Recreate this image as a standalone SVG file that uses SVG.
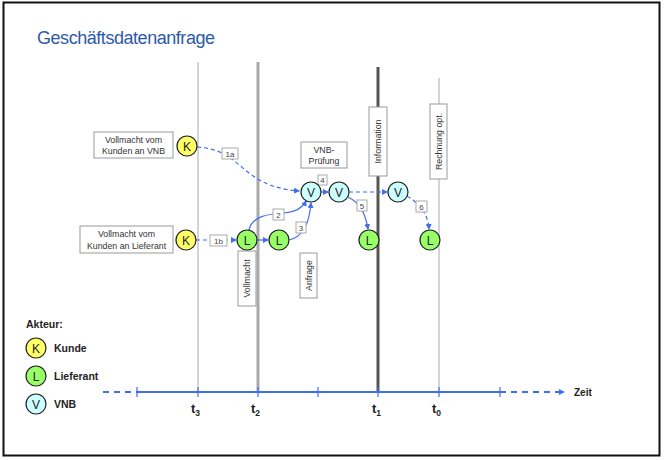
<svg xmlns="http://www.w3.org/2000/svg" width="664" height="460" viewBox="0 0 664 460">
<defs>
<marker id="ah" markerWidth="6" markerHeight="6" refX="5" refY="3" orient="auto" markerUnits="userSpaceOnUse"><path d="M0,0 L6,3 L0,6 z" fill="#3f6ef0"/></marker>
<style>
text{font-family:"Liberation Sans",Arial,sans-serif;fill:#222}
.n circle{stroke:#222;stroke-width:1.2}
.k{fill:#ffff66}.l{fill:#99ff66}.v{fill:#ccffff}
.nt{font-size:12px;text-anchor:middle}
.box{fill:#fff;stroke:#999;stroke-width:1}
.bt{font-size:8.8px;text-anchor:middle;fill:#333}
.lb{fill:#fff;stroke:#aaa;stroke-width:1}
.lt{font-size:8px;text-anchor:middle;fill:#444}
.c{fill:none;stroke:#3f6ef0;stroke-width:1.2}
.d{stroke-dasharray:4,3}
.leg{font-size:10.5px;font-weight:bold}
</style>
</defs>
<rect x="3.5" y="2.5" width="656" height="453" fill="#fff" stroke="#111" stroke-width="2"/>
<text x="37" y="44" font-size="18" fill="#2e5aa8" style="fill:#2e5aa8" textLength="178">Geschäftsdatenanfrage</text>

<g id="timelines">
<line x1="198" y1="62" x2="198" y2="392" stroke="#aaa" stroke-width="1"/>
<line x1="258" y1="62" x2="258" y2="392" stroke="#aaa" stroke-width="3"/>
<line x1="378" y1="67" x2="378" y2="392" stroke="#555" stroke-width="3"/>
<line x1="439" y1="78" x2="439" y2="392" stroke="#aaa" stroke-width="1"/>
</g>

<g id="axis">
<line x1="137" y1="392" x2="500" y2="392" stroke="#3f6ef0" stroke-width="2"/>
<line x1="103" y1="392" x2="137" y2="392" stroke="#3f6ef0" stroke-width="2" stroke-dasharray="6,5"/>
<line x1="500" y1="392" x2="564" y2="392" stroke="#3f6ef0" stroke-width="2" stroke-dasharray="6,5" marker-end="url(#ah)"/>
<g stroke="#3f6ef0" stroke-width="1.2">
<line x1="137" y1="387" x2="137" y2="397"/><line x1="198" y1="387" x2="198" y2="397"/><line x1="258" y1="387" x2="258" y2="397"/><line x1="318" y1="387" x2="318" y2="397"/><line x1="378" y1="387" x2="378" y2="397"/><line x1="439" y1="387" x2="439" y2="397"/><line x1="500" y1="387" x2="500" y2="397"/>
</g>
<text x="574" y="396" font-size="10" font-weight="bold">Zeit</text>
<text x="191" y="413" font-size="13" font-weight="bold">t<tspan font-size="8.5" dy="3">3</tspan></text>
<text x="251" y="413" font-size="13" font-weight="bold">t<tspan font-size="8.5" dy="3">2</tspan></text>
<text x="372" y="413" font-size="13" font-weight="bold">t<tspan font-size="8.5" dy="3">1</tspan></text>
<text x="432" y="413" font-size="13" font-weight="bold">t<tspan font-size="8.5" dy="3">0</tspan></text>
</g>

<g id="labels">
<g id="box-vnb"><rect class="box" x="94" y="132" width="79" height="26"/><text class="bt" x="133.5" y="143">Vollmacht vom</text><text class="bt" x="133.5" y="154">Kunden an VNB</text></g>
<g id="box-lief"><rect class="box" x="80" y="226" width="93" height="27"/><text class="bt" x="126.5" y="237">Vollmacht vom</text><text class="bt" x="126.5" y="248.5">Kunden an Lieferant</text></g>
<g id="box-pruef"><rect class="box" x="301" y="142" width="46" height="26"/><text class="bt" x="324" y="153">VNB-</text><text class="bt" x="324" y="164">Prüfung</text></g>
<g id="box-info"><rect class="box" x="369" y="107" width="18" height="69"/><text class="bt" transform="translate(381,141.5) rotate(-90)">Information</text></g>
<g id="box-rech"><rect class="box" x="430" y="104" width="17" height="75"/><text class="bt" transform="translate(441.5,141.5) rotate(-90)">Rechnung opt.</text></g>
<g id="box-vollm"><rect class="box" x="238" y="251" width="18" height="55"/><text class="bt" transform="translate(250,278.5) rotate(-90)">Vollmacht</text></g>
<g id="box-anfr"><rect class="box" x="300" y="253" width="17" height="45"/><text class="bt" transform="translate(311.5,275.5) rotate(-90)">Anfrage</text></g>
</g>

<g id="connectors">
<path class="c d" d="M197,147 C245,150 238,186 299,191" marker-end="url(#ah)"/>
<path class="c d" d="M196,240 L236,240" marker-end="url(#ah)"/>
<path class="c" d="M257,240 L268,240" marker-end="url(#ah)"/>
<path class="c" d="M249,230 C252,216 268,214 284,213 C298,212 303,207 306,201" marker-end="url(#ah)"/>
<path class="c" d="M289,240 C302,237 309,226 311,203" marker-end="url(#ah)"/>
<path class="c" d="M321,192 L328,192" marker-end="url(#ah)"/>
<path class="c d" d="M349,192 L387,192" marker-end="url(#ah)"/>
<path class="c" d="M348,197 C360,203 365,212 368,229" marker-end="url(#ah)"/>
<path class="c d" d="M407,196 C420,204 428,214 429,229" marker-end="url(#ah)"/>
<g id="lbl-1a"><rect class="lb" x="222" y="148" width="16" height="11"/><text class="lt" x="230" y="156.5">1a</text></g>
<g id="lbl-1b"><rect class="lb" x="210" y="235" width="17" height="11"/><text class="lt" x="218.5" y="243.5">1b</text></g>
<g id="lbl-2"><rect class="lb" x="273" y="209" width="11" height="11"/><text class="lt" x="278.5" y="217.5">2</text></g>
<g id="lbl-3"><rect class="lb" x="296" y="222" width="10" height="11"/><text class="lt" x="301" y="230.5">3</text></g>
<g id="lbl-4"><rect class="lb" x="318" y="175" width="9" height="10"/><text class="lt" x="322.5" y="183">4</text></g>
<g id="lbl-5"><rect class="lb" x="357" y="200" width="10" height="11"/><text class="lt" x="362" y="208.5">5</text></g>
<g id="lbl-6"><rect class="lb" x="416" y="201" width="11" height="11"/><text class="lt" x="421.5" y="209.5">6</text></g>
</g>

<g id="n-k1" class="n"><circle class="k" cx="187" cy="146" r="10"/><text class="nt" x="187" y="150.5">K</text></g>
<g id="n-k2" class="n"><circle class="k" cx="186" cy="240" r="10"/><text class="nt" x="186" y="244.5">K</text></g>
<g id="n-l1" class="n"><circle class="l" cx="247" cy="240" r="10"/><text class="nt" x="247" y="244.5">L</text></g>
<g id="n-l2" class="n"><circle class="l" cx="279" cy="240" r="10"/><text class="nt" x="279" y="244.5">L</text></g>
<g id="n-v1" class="n"><circle class="v" cx="311" cy="192" r="10"/><text class="nt" x="311" y="196.5">V</text></g>
<g id="n-v2" class="n"><circle class="v" cx="339" cy="192" r="10"/><text class="nt" x="339" y="196.5">V</text></g>
<g id="n-v3" class="n"><circle class="v" cx="398" cy="192" r="10"/><text class="nt" x="398" y="196.5">V</text></g>
<g id="n-l3" class="n"><circle class="l" cx="369" cy="240" r="10"/><text class="nt" x="369" y="244.5">L</text></g>
<g id="n-l4" class="n"><circle class="l" cx="430" cy="240" r="10"/><text class="nt" x="430" y="244.5">L</text></g>

<g id="legend">
<text class="leg" x="26" y="328">Akteur:</text>
<g id="leg-k" class="n"><circle class="k" cx="36" cy="348" r="10"/><text class="nt" x="36" y="352.5">K</text></g>
<text class="leg" x="54" y="351.5">Kunde</text>
<g id="leg-l" class="n"><circle class="l" cx="36" cy="376" r="10"/><text class="nt" x="36" y="380.5">L</text></g>
<text class="leg" x="54" y="380">Lieferant</text>
<g id="leg-v" class="n"><circle class="v" cx="36" cy="404" r="10"/><text class="nt" x="36" y="408.5">V</text></g>
<text class="leg" x="54" y="408">VNB</text>
</g>
</svg>
